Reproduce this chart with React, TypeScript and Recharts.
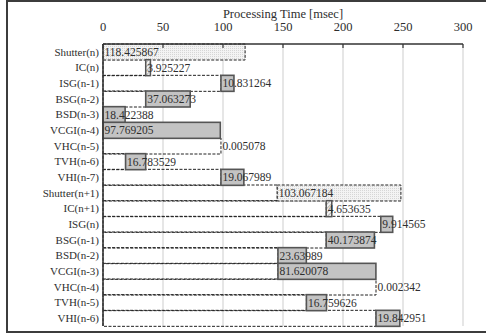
import React from 'react';
import { BarChart, Bar, XAxis, YAxis, CartesianGrid, LabelList, Label } from 'recharts';

const categories = [
  'Shutter(n)', 'IC(n)', 'ISG(n-1)', 'BSG(n-2)', 'BSD(n-3)', 'VCGI(n-4)', 'VHC(n-5)', 'TVH(n-6)', 'VHI(n-7)',
  'Shutter(n+1)', 'IC(n+1)', 'ISG(n)', 'BSG(n-1)', 'BSD(n-2)', 'VCGI(n-3)', 'VHC(n-4)', 'TVH(n-5)', 'VHI(n-6)',
];
const startTimes = [0, 35.6, 98.3, 35.6, 0, 0, 98.3, 18.8, 98.3, 145.2, 186, 231.5, 186, 145.8, 145.8, 227.5, 169.5, 227.5];
const durations = [
  118.425867, 3.925227, 10.831264, 37.063273, 18.422388, 97.769205, 0.005078, 16.783529, 19.067989,
  103.067184, 4.653635, 9.914565, 40.173874, 23.63989, 81.620078, 0.002342, 16.759626, 19.842951,
];
const kinds = [
  'shutter', 'ic', 'proc', 'proc', 'proc', 'proc', 'proc', 'proc', 'proc',
  'shutter', 'ic', 'proc', 'proc', 'proc', 'proc', 'proc', 'proc', 'proc',
];
const xTicks = [0, 50, 100, 150, 200, 250, 300];

const data = categories.map((name, i) => ({
  name,
  start: startTimes[i],
  dur: durations[i],
  kind: kinds[i],
}));

const FONT = '"Liberation Serif", "DejaVu Serif", serif';
const TEXT = '#2e2e2e';

const OffsetShape = (props: any) => {
  const { x, y, width, height } = props;
  if (!width || width < 0.5) return null;
  return (
    <rect x={x} y={y} width={width} height={height} fill="none" stroke="#222" strokeWidth={1} strokeDasharray="3 1.5" />
  );
};

const DurShape = (props: any) => {
  const { x, y, width, height, payload, index } = props;
  const kind = payload?.kind;
  if (width === undefined || width < 0.05) return null;
  if (kind === 'shutter') {
    const id = `dots-${index}`;
    return (
      <g>
        <defs>
          <pattern id={id} patternUnits="userSpaceOnUse" width={2} height={2}>
            <rect width={2} height={2} fill="#f3f3f3" />
            <rect width={1} height={1} fill="#d6d6d6" />
          </pattern>
        </defs>
        <rect x={x} y={y} width={width} height={height} fill={`url(#${id})`} stroke="#222" strokeWidth={1} strokeDasharray="3 1.5" />
      </g>
    );
  }
  if (kind === 'ic') {
    const id = `hatch-${index}`;
    return (
      <g>
        <defs>
          <pattern id={id} patternUnits="userSpaceOnUse" width={3} height={3} patternTransform="rotate(45)">
            <rect width={3} height={3} fill="#f2f2f2" />
            <line x1={0} y1={0} x2={0} y2={3} stroke="#9a9a9a" strokeWidth={1.4} />
          </pattern>
        </defs>
        <rect x={x} y={y} width={width} height={height} fill={`url(#${id})`} stroke="#555" strokeWidth={1.5} />
      </g>
    );
  }
  return <rect x={x} y={y} width={width} height={height} fill="#c3c3c3" stroke="#555" strokeWidth={1.6} />;
};

const ValueLabel = (props: any) => {
  const vb = props.viewBox || {};
  const x = props.x ?? vb.x;
  const y = props.y ?? vb.y;
  const height = props.height ?? vb.height;
  return (
    <text x={x + 1.5} y={y + height / 2} dy="0.36em" fill={TEXT} fontSize={11.5} fontFamily={FONT} textAnchor="start">
      {String(props.value)}
    </text>
  );
};

const TopTick = (props: any) => {
  const { x, y, payload } = props;
  return (
    <g>
      <line x1={x} x2={x} y1={y} y2={y + 4} stroke="#333" strokeWidth={1.2} />
      <text x={x} y={y - 13} textAnchor="middle" fill={TEXT} fontSize={12.5} fontFamily={FONT}>
        {payload.value}
      </text>
    </g>
  );
};

export default function App() {
  return (
    <div style={{ position: 'absolute', left: 0, top: 0, width: 486, height: 334, overflow: 'hidden', background: '#fff' }}>
      <div
        style={{
          position: 'absolute',
          left: 6,
          top: 0,
          width: 520,
          height: 333,
          border: '2px solid #3c3c3c',
          boxSizing: 'border-box',
        }}
      />
      <div style={{ position: 'absolute', left: 0, top: 0 }}>
        <BarChart
          width={486}
          height={334}
          data={data}
          layout="vertical"
          margin={{ top: 4, right: 23, bottom: 8, left: 3 }}
          barCategoryGap={0}
          barGap={0}
        >
          <CartesianGrid horizontal={false} vertical={true} stroke="#cdcdcd" strokeWidth={1} />
          <XAxis
            type="number"
            orientation="top"
            domain={[0, 300]}
            ticks={xTicks}
            height={40}
            axisLine={{ stroke: '#333', strokeWidth: 1.5 }}
            tickLine={false}
            tickSize={0}
            tickMargin={0}
            tick={<TopTick />}
            interval={0}
          >
            <Label
              value="Processing Time [msec]"
              position="insideTop"
              offset={5}
              style={{ fontSize: 12.5, fontFamily: FONT, fill: TEXT }}
            />
          </XAxis>
          <YAxis
            type="category"
            dataKey="name"
            width={100}
            axisLine={{ stroke: '#333', strokeWidth: 1.5 }}
            tickLine={false}
            tickSize={0}
            tickMargin={4}
            interval={0}
            tick={{ fontSize: 11, fontFamily: FONT, fill: TEXT }}
          />
          <Bar dataKey="start" stackId="t" isAnimationActive={false} shape={<OffsetShape />} />
          <Bar dataKey="dur" stackId="t" isAnimationActive={false} shape={<DurShape />}>
            <LabelList dataKey="dur" content={<ValueLabel />} />
          </Bar>
        </BarChart>
      </div>
    </div>
  );
}
